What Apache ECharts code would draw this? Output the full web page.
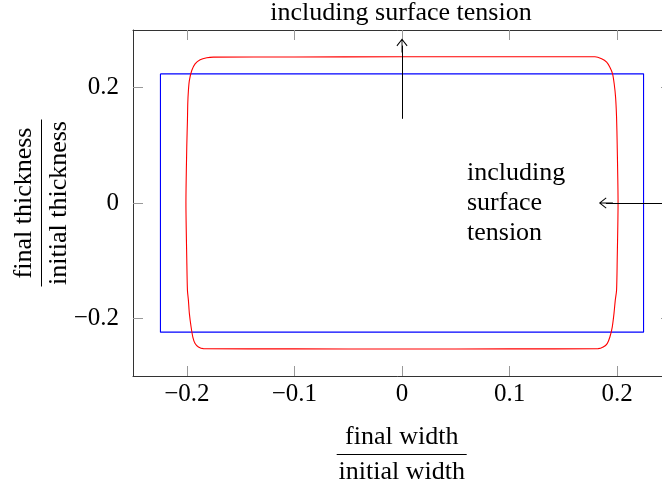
<!DOCTYPE html>
<html>
<head>
<meta charset="utf-8">
<script src="https://cdn.jsdelivr.net/npm/echarts@6/dist/echarts.min.js"></script>
<style>html,body{margin:0;padding:0;background:#fff}#box{width:662px;height:487px}</style>
</head>
<body>
<div id="box"></div>
<script>
var FONT = '"Liberation Serif", "Times New Roman", serif';

// tick positions
var xTicks = [-0.2, -0.1, 0, 0.1, 0.2];
var yTicks = [-0.2, 0, 0.2];

// blue outline
var blueX = [-0.2245, 0.2245, 0.2245, -0.2245, -0.2245];
var blueY = [0.224, 0.224, -0.224, -0.224, 0.224];

// red outline (including surface tension), clockwise from top middle
var redX = [0, 0.1, 0.1793, 0.1855, 0.1902, 0.1932, 0.1957, 0.1972, 0.1985, 0.1994,
  0.2, 0.2008, 0.2,
  0.1994, 0.1982, 0.1970, 0.1954, 0.1932, 0.1907, 0.1870, 0.1823,
  0.1, 0, -0.1,
  -0.1846, -0.1892, -0.1923, -0.1944, -0.1960, -0.1976, -0.1985, -0.1994,
  -0.2, -0.2008, -0.2,
  -0.1994, -0.1991, -0.1985, -0.1976, -0.1954, -0.1923, -0.1876, -0.1814, -0.1753,
  -0.1, 0];
var redY = [0.2535, 0.2535, 0.2535, 0.2501, 0.2442, 0.2355, 0.2241, 0.2068, 0.1835, 0.1489,
  0.1, 0, -0.1,
  -0.1515, -0.1688, -0.1919, -0.2151, -0.2324, -0.2438, -0.2497, -0.2525,
  -0.253, -0.2532, -0.253,
  -0.2525, -0.2497, -0.2438, -0.2324, -0.2151, -0.1919, -0.1688, -0.1515,
  -0.1, 0, 0.1,
  0.1432, 0.1721, 0.1951, 0.2125, 0.2298, 0.2414, 0.2484, 0.2518, 0.2529,
  0.2532, 0.2535];

// arrows: [x0, y0, x1, y1]
var arrowUp = [0, 0.146, 0, 0.273];
var arrowLeft = [0.25, 0, 0.1895, 0];

function zip(xs, ys) {
  return xs.map(function (x, i) { return [x, ys[i]]; });
}
function fmt(v) {
  return v < 0 ? '\u2212' + (-v) : String(v);
}

var chevron = 'path://M5,0 L10,7 L9.3,7.6 L5.4,2.2 L5.4,14 L4.6,14 L4.6,2.2 L0.7,7.6 L0,7 Z';

var frameLine = { show: true, onZero: false, lineStyle: { color: '#333', width: 1 } };
function tick(vals) {
  return { show: true, inside: true, length: 10, customValues: vals, lineStyle: { color: '#999', width: 1 } };
}

var myChart = echarts.init(document.getElementById('box'));
var option = {
  animation: false,
  backgroundColor: '#fff',
  textStyle: { fontFamily: FONT },
  grid: { left: 133, top: 30, width: 538, height: 346, outerBoundsMode: 'none', containLabel: false },
  xAxis: [
    {
      type: 'value', min: -0.25, max: 0.25, position: 'bottom',
      axisLine: frameLine, axisTick: tick(xTicks), splitLine: { show: false },
      axisLabel: { customValues: xTicks, formatter: fmt, fontSize: 25, color: '#000', margin: 6, fontFamily: FONT }
    },
    {
      type: 'value', min: -0.25, max: 0.25, position: 'top',
      axisLine: frameLine, axisTick: tick(xTicks), splitLine: { show: false },
      axisLabel: { show: false }
    }
  ],
  yAxis: [
    {
      type: 'value', min: -0.3, max: 0.3, position: 'left',
      axisLine: frameLine, axisTick: tick(yTicks), splitLine: { show: false },
      axisLabel: { customValues: yTicks, formatter: fmt, fontSize: 25, color: '#000', margin: 14, fontFamily: FONT }
    },
    {
      type: 'value', min: -0.3, max: 0.3, position: 'right',
      axisLine: frameLine, axisTick: tick(yTicks), splitLine: { show: false },
      axisLabel: { show: false }
    }
  ],
  series: [
    {
      type: 'line', name: 'blue', data: zip(blueX, blueY),
      showSymbol: false, symbol: 'none', silent: true,
      lineStyle: { color: '#0000ff', width: 1.1 },
      markLine: {
        silent: true, symbol: ['none', chevron], symbolSize: [11, 14],
        label: { show: false },
        lineStyle: { color: '#000', width: 1, type: 'solid' },
        data: [
          [{ coord: [arrowUp[0], arrowUp[1]] }, { coord: [arrowUp[2], arrowUp[3]] }],
          [{ coord: [arrowLeft[0], arrowLeft[1]] }, { coord: [arrowLeft[2], arrowLeft[3]] }]
        ]
      }
    },
    {
      type: 'line', name: 'red', data: zip(redX, redY),
      showSymbol: false, symbol: 'none', silent: true, smooth: 0.25,
      lineStyle: { color: '#ff0000', width: 1.1 }
    }
  ],
  graphic: [
    {
      type: 'text', x: 401, y: 13,
      style: { text: 'including surface tension', fontSize: 26, fontFamily: FONT, fill: '#000', align: 'center', verticalAlign: 'middle' }
    },
    {
      type: 'text', x: 467, y: 203,
      style: { text: 'including\nsurface\ntension', fontSize: 26, lineHeight: 30, fontFamily: FONT, fill: '#000', align: 'left', verticalAlign: 'middle' }
    },
    {
      type: 'group', x: 401.7, y: 454.5,
      children: [
        { type: 'text', x: 0, y: -17.5, style: { text: 'final width', fontSize: 26, fontFamily: FONT, fill: '#000', align: 'center', verticalAlign: 'middle' } },
        { type: 'line', shape: { x1: -65, y1: 0, x2: 65, y2: 0 }, style: { stroke: '#000', lineWidth: 1 } },
        { type: 'text', x: 0, y: 17.5, style: { text: 'initial width', fontSize: 26, fontFamily: FONT, fill: '#000', align: 'center', verticalAlign: 'middle' } }
      ]
    },
    {
      type: 'group', x: 41.5, y: 203, rotation: Math.PI / 2,
      children: [
        { type: 'text', x: 0, y: -17.5, style: { text: 'final thickness', fontSize: 26, fontFamily: FONT, fill: '#000', align: 'center', verticalAlign: 'middle' } },
        { type: 'line', shape: { x1: -83.5, y1: 0, x2: 83.5, y2: 0 }, style: { stroke: '#000', lineWidth: 1 } },
        { type: 'text', x: 0, y: 17.5, style: { text: 'initial thickness', fontSize: 26, fontFamily: FONT, fill: '#000', align: 'center', verticalAlign: 'middle' } }
      ]
    }
  ]
};
myChart.setOption(option, true);
</script>
</body>
</html>
